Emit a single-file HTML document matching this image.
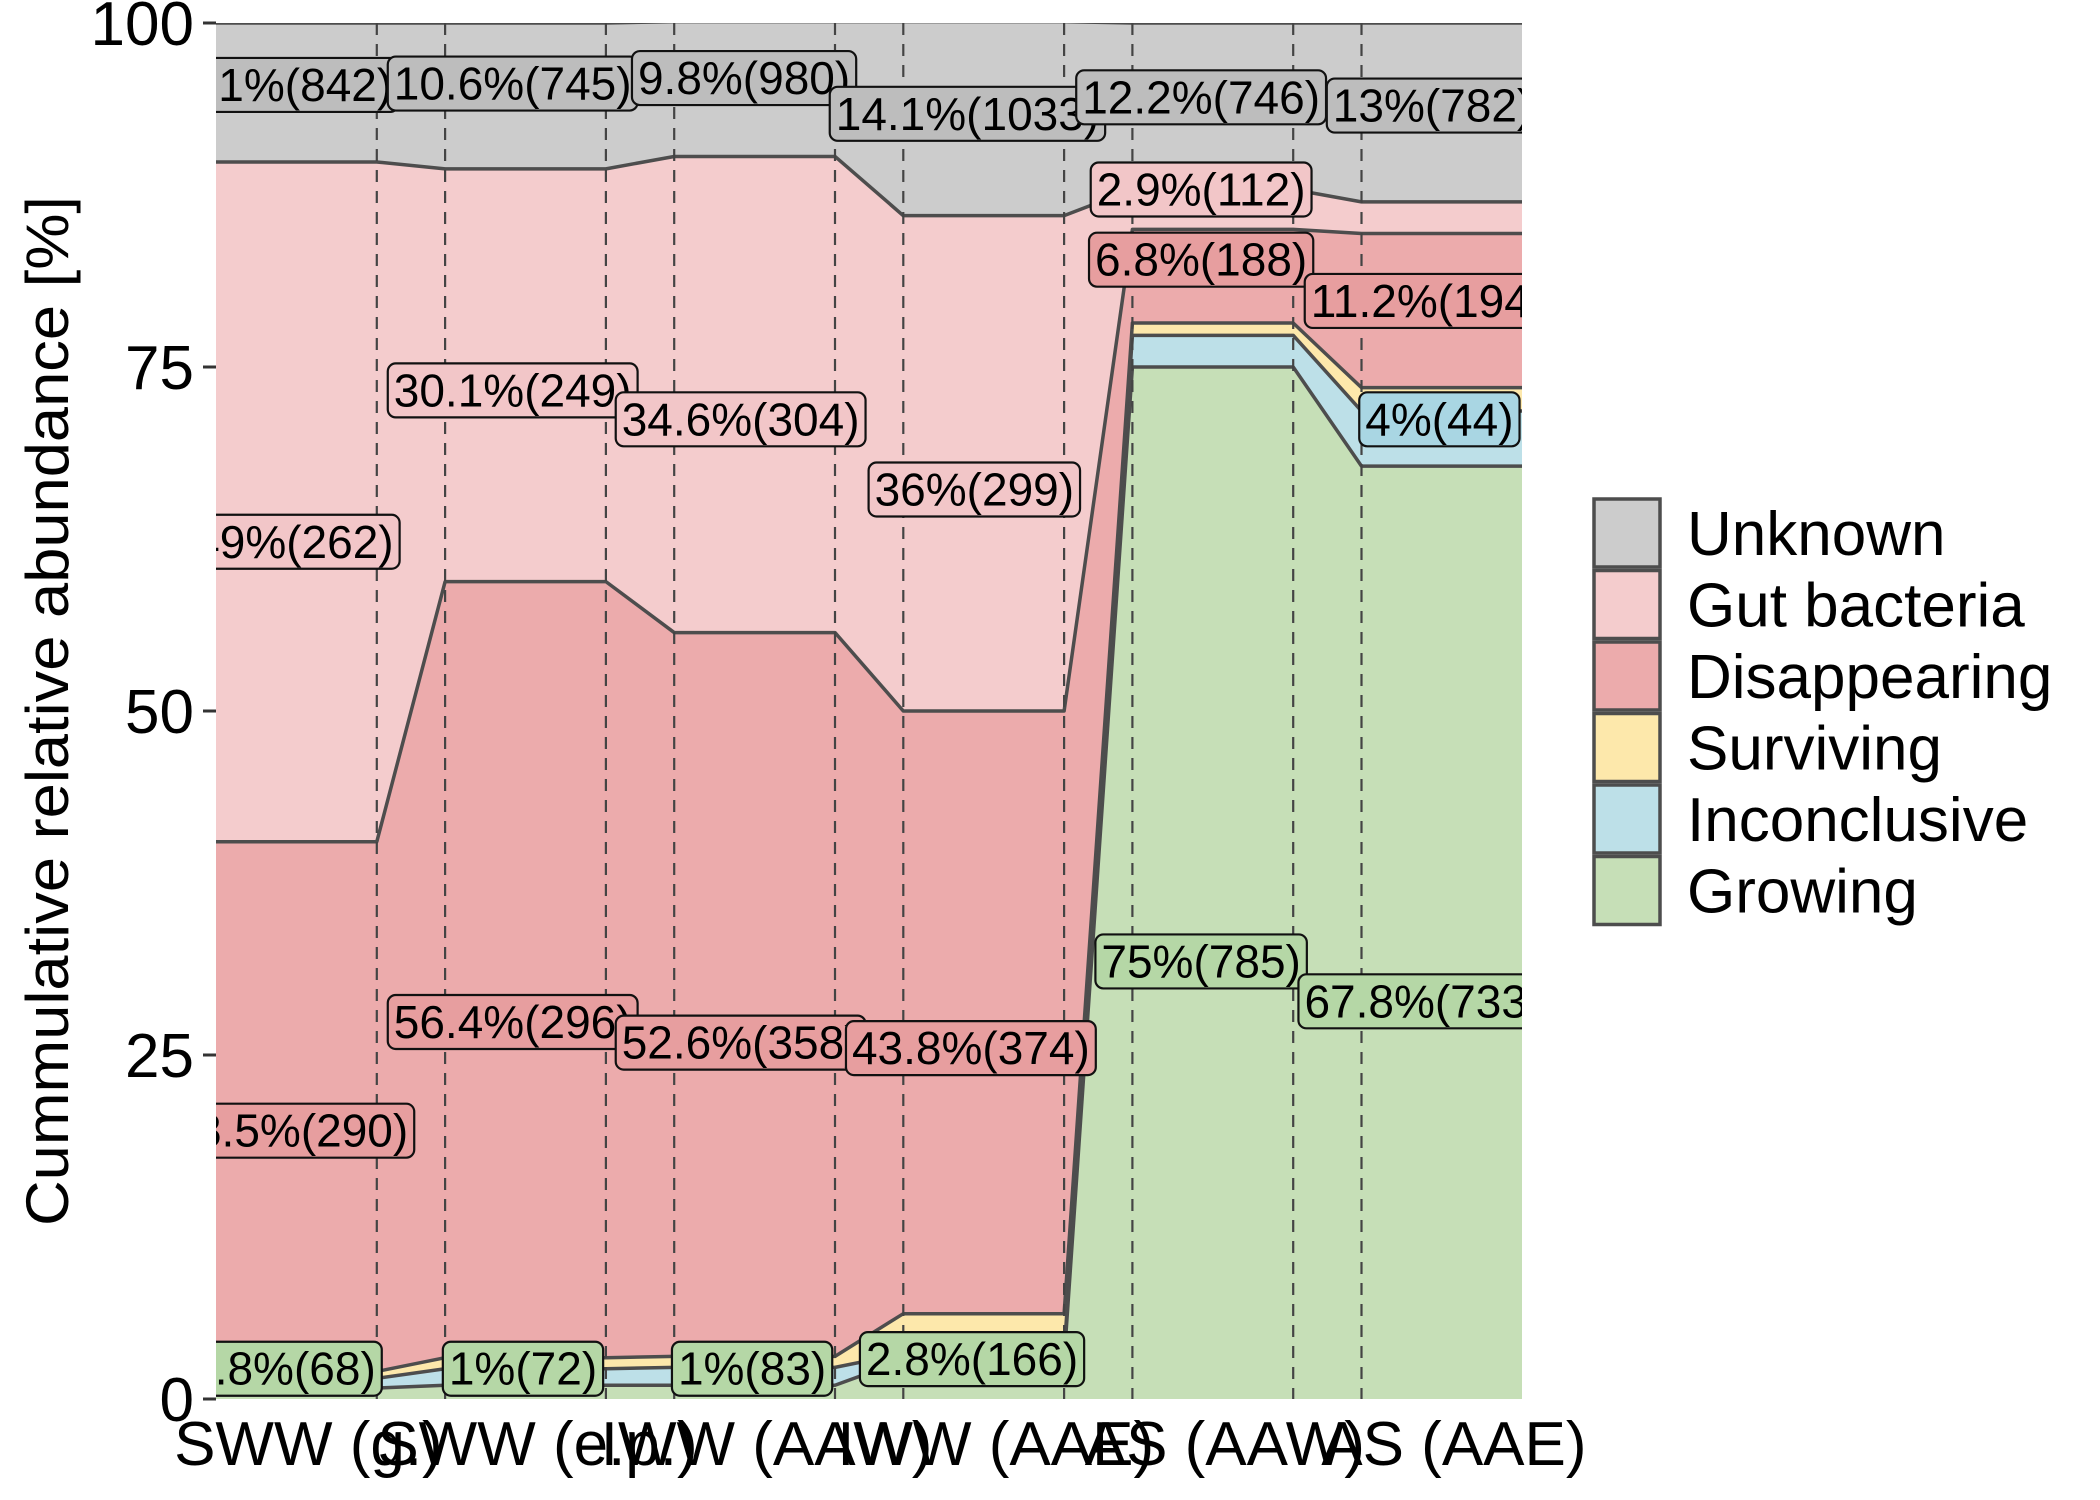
<!DOCTYPE html>
<html><head><meta charset="utf-8"><style>
html,body{margin:0;padding:0;background:#fff;}
svg{display:block;font-family:"Liberation Sans",Arial,sans-serif;}
</style></head><body>
<svg id="chart" width="2100" height="1500" viewBox="0 0 2100 1500" xmlns="http://www.w3.org/2000/svg">
<defs><clipPath id="pclip"><rect x="216" y="23" width="1306" height="1376"/></clipPath></defs>
<g id="plot" clip-path="url(#pclip)"></g>
<g id="axes"></g>
<g id="legend"></g>
</svg>
<script>
const categories = ["SWW (g.)","SWW (e.p.)","IWW (AAW)","IWW (AAE)","AS (AAW)","AS (AAE)"];
const layers = ["Growing","Inconclusive","Surviving","Disappearing","Gut bacteria","Unknown"];
const growing =      [0.8, 1.0, 1.0, 2.8, 75.0, 67.8];
const inconclusive = [0.7, 1.2, 1.3, 0.5, 2.3, 4.0];
const surviving =    [0.5, 0.8, 0.8, 2.9, 0.9, 1.7];
const disappearing = [38.5, 56.4, 52.6, 43.8, 6.8, 11.2];
const gutBacteria =  [49.4, 30.0, 34.6, 36.0, 2.9, 2.3];
const unknown =      [10.1, 10.6, 9.8, 14.1, 12.1, 13.0];
const yTicks = [0, 25, 50, 75, 100];
const labelText = ["10.1%(842)","10.6%(745)","9.8%(980)","14.1%(1033)","12.2%(746)","13%(782)",
 "49%(262)","30.1%(249)","34.6%(304)","36%(299)","2.9%(112)",
 "38.5%(290)","56.4%(296)","52.6%(358)","43.8%(374)","6.8%(188)","11.2%(194)",
 "0.8%(68)","1%(72)","1%(83)","2.8%(166)","75%(785)","67.8%(733)",
 "4%(44)"];
const labelLayer = [5,5,5,5,5,5, 4,4,4,4,4, 3,3,3,3,3,3, 0,0,0,0,0,0, 1];
const labelX = [0.25,1.295,2.305,3.28,4.30,5.31, 0.34,1.295,2.29,3.31,4.30, 0.32,1.295,2.29,3.295,4.30,5.29, 0.29,1.34,2.34,3.30,4.30,5.27, 5.34];
const labelY = [95.5,95.6,96.0,93.4,94.6,94.0, 62.3,73.3,71.2,66.1,87.9, 19.5,27.4,25.9,25.5,82.8,79.8, 2.2,2.2,2.2,2.9,31.8,28.9, 71.2];

const series = [growing, inconclusive, surviving, disappearing, gutBacteria, unknown];
const fills = ["#c6dfb7","#bde0e8","#fde8ab","#ecabac","#f4cccd","#cccccc"];
const labelFills = ["#b5d7a6","#a9d6e3","#f7dc93","#e79e9f","#f2c6c8","#bdbdbd"];
const NS = "http://www.w3.org/2000/svg";
const X0 = 216, STEP = 229.1, W = 160.8, Y0 = 1399, YU = 13.76;
const xs = i => X0 + i * STEP;
const xe = i => X0 + i * STEP + W;
const xu = u => X0 + u * STEP;
const y = v => Y0 - v * YU;
function mk(tag, attrs, parent){const e=document.createElementNS(NS,tag);for(const k in attrs)e.setAttribute(k,attrs[k]);parent.appendChild(e);return e;}
const plot = document.getElementById('plot'), axes = document.getElementById('axes'), legend = document.getElementById('legend');

const cum = [categories.map(()=>0)];
series.forEach((s,k)=>cum.push(s.map((v,i)=>cum[k][i]+v)));
function boundaryPts(arr){const p=[];arr.forEach((v,i)=>{p.push([xs(i),y(v)]);p.push([xe(i),y(v)]);});return p;}
series.forEach((s,k)=>{
  const top = boundaryPts(cum[k+1]), bot = boundaryPts(cum[k]).reverse();
  const pts = top.concat(bot).map(p=>p.join(',')).join(' ');
  const a = mk('polygon',{points:pts,fill:fills[k],stroke:'none'},plot);
  
  
});
series.forEach((s,k)=>{
  const pts = boundaryPts(cum[k+1]).map(p=>p.join(',')).join(' ');
  const l = mk('polyline',{points:pts,fill:'none',stroke:'#4d4d4d','stroke-width':3.5,'stroke-linejoin':'round'},plot);
  
  
});
categories.forEach((c,i)=>{
  [xs(i),xe(i)].forEach((x,j)=>{
    if((i===0&&j===0)||(i===categories.length-1&&j===1))return;
    const d = mk('line',{x1:x,x2:x,y1:23,y2:Y0,stroke:'#444','stroke-width':2.2,'stroke-dasharray':'12 9'},plot);
    
    
  });
});
labelText.forEach((t,n)=>{
  const g = mk('g',{},plot);
  
  
  const cx = xu(labelX[n]), cy = y(labelY[n]);
  const r = mk('rect',{y:cy-27,height:54,rx:8,fill:labelFills[labelLayer[n]],stroke:'#111','stroke-width':2.2},g);
  const tx = mk('text',{x:cx,y:cy+16,'font-size':46,'text-anchor':'middle',fill:'#000'},g);
  tx.textContent = t;
  const w = tx.getComputedTextLength() + 12;
  r.setAttribute('x', cx - w/2); r.setAttribute('width', w);
});

yTicks.forEach(v=>{
  const tk = mk('line',{x1:203,x2:216,y1:y(v),y2:y(v),stroke:'#333','stroke-width':3},axes);
  
  
  const t = mk('text',{x:194,y:y(v)+22,'font-size':62,'text-anchor':'end',fill:'#000'},axes);
  
  
  t.textContent = v;
});
categories.forEach((c,i)=>{
  const t = mk('text',{x:(xs(i)+xe(i))/2+12,y:1465,'font-size':62,'text-anchor':'middle',fill:'#000'},axes);
  
  
  t.textContent = c;
});
const yt = mk('text',{x:0,y:0,'font-size':60,'text-anchor':'middle',fill:'#000',transform:'translate(68,711) rotate(-90)',textLength:1030,lengthAdjust:'spacingAndGlyphs'},axes);


yt.textContent = 'Cummulative relative abundance [%]';

const legOrder = [5,4,3,2,1,0];
legOrder.forEach((k,j)=>{
  const cy = 533 + j*71.5;
  const g = mk('g',{},legend);
  
  
  mk('rect',{x:1594,y:cy-34,width:66,height:68,fill:fills[k],stroke:'#4d4d4d','stroke-width':3.5},g);
  const t = mk('text',{x:1687,y:cy+22,'font-size':62,fill:'#000'},g);
  t.textContent = layers[k];
});
</script>
</body></html>
